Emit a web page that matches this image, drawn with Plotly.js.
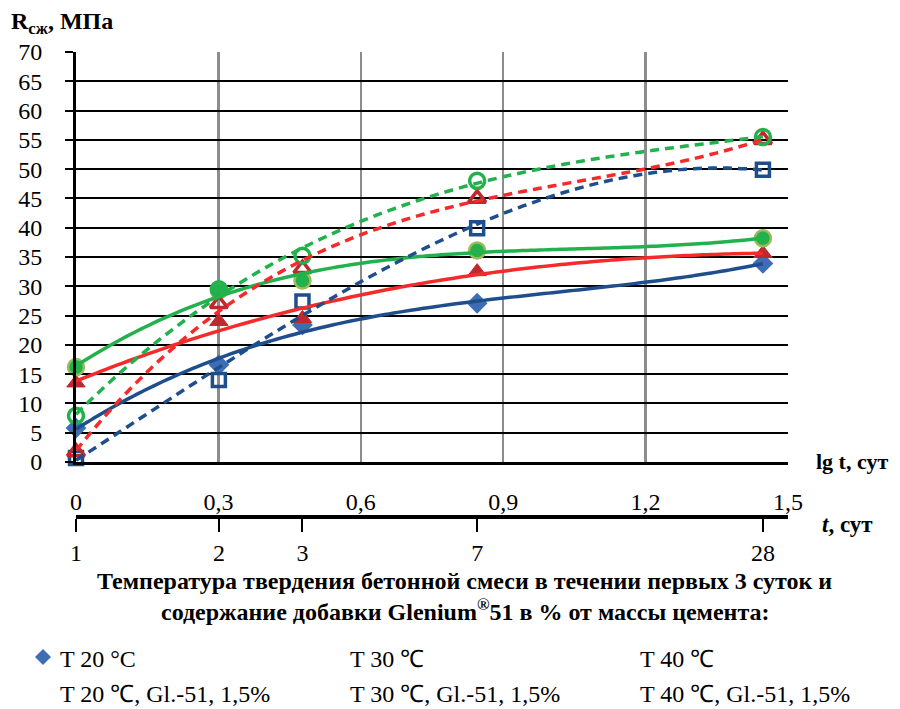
<!DOCTYPE html>
<html>
<head>
<meta charset="utf-8">
<script src="https://cdn.plot.ly/plotly-3.0.1.min.js"></script>
<style>html,body{margin:0;padding:0;background:#fff;}#chart{width:900px;height:709px;}</style>
</head>
<body>
<div id="chart"></div>
<script>
// ---- data ----
const tDays = [1, 2, 3, 7, 28];
const tLabels = ["1", "2", "3", "7", "28"];
const lgTickVals = [0, 0.3, 0.6, 0.9, 1.2, 1.5];
const lgTickText = ["0", "0,3", "0,6", "0,9", "1,2", "1,5"];
const yTickVals = [0, 5, 10, 15, 20, 25, 30, 35, 40, 45, 50, 55, 60, 65, 70];

const seriesNames = ["T 20 °C", "T 30 ℃", "T 40 ℃", "T 20 ℃, Gl.-51, 1,5%", "T 30 ℃, Gl.-51, 1,5%", "T 40 ℃, Gl.-51, 1,5%"];
const T20   = [5.8, 16.6, 23.4, 27.1, 33.9];
const T30   = [13.5, 24.0, 24.5, 32.5, 35.6];
const T40   = [16.2, 29.3, 31.0, 36.1, 38.2];
const T20Gl = [0.7, 14.0, 27.4, 39.9, 49.9];
const T30Gl = [1.7, 27.0, 33.0, 45.0, 55.0];
const T40Gl = [7.9, 29.5, 35.2, 48.0, 55.5];

// ---- styles ----
const FONT = "Liberation Serif, serif";
const lgT = tDays.map(Math.log10);
const styles = [
  {y: T20,   line: "#1f4e8c", dash: "solid", order: 3, marker: {symbol: "diamond", size: 16, color: "#3d6eb4", line: {width: 0}}},
  {y: T30,   line: "#f52a2a", dash: "solid", order: 3, marker: {symbol: "triangle-up", size: 16, color: "#c0282d", line: {width: 1, color: "#c0282d"}}},
  {y: T40,   line: "#22b14c", dash: "solid", order: 3, marker: {symbol: "circle", size: 16, color: "#22b14c", line: {width: 2.5, color: "#9bbb59"}}},
  {y: T20Gl, line: "#1f4e8c", dash: "9px,6px", order: 3, marker: {symbol: "square-open", size: 13, color: "#1f4e8c", line: {width: 3.5, color: "#1f4e8c"}}},
  {y: T30Gl, line: "#f52a2a", dash: "9px,6px", order: 3, marker: {symbol: "triangle-up-open", size: 15, color: "#c0282d", line: {width: 3.5, color: "#c0282d"}}},
  {y: T40Gl, line: "#22b14c", dash: "9px,6px", order: 3, marker: {symbol: "circle-open", size: 15, color: "#22b14c", line: {width: 3.5, color: "#22b14c"}}}
];

// least-squares polynomial trendline (as in the spreadsheet source)
function polyfit(xs, ys, n) {
  const m = n + 1;
  const A = [];
  for (let i = 0; i < m; i++) {
    A.push(new Array(m + 1).fill(0));
    for (let j = 0; j < m; j++) {
      let s = 0; xs.forEach(x => s += Math.pow(x, i + j)); A[i][j] = s;
    }
    let s = 0; xs.forEach((x, k) => s += ys[k] * Math.pow(x, i)); A[i][m] = s;
  }
  for (let c = 0; c < m; c++) {
    let p = c;
    for (let r = c + 1; r < m; r++) if (Math.abs(A[r][c]) > Math.abs(A[p][c])) p = r;
    [A[c], A[p]] = [A[p], A[c]];
    for (let r = 0; r < m; r++) {
      if (r === c) continue;
      const f = A[r][c] / A[c][c];
      for (let k = c; k <= m; k++) A[r][k] -= f * A[c][k];
    }
  }
  return A.map((row, i) => row[m] / A[i][i]);
}
function evalPoly(c, x) { return c.reduce((s, a, i) => s + a * Math.pow(x, i), 0); }

const traces = [];
styles.forEach((s, i) => {
  traces.push({x: lgT, y: s.y, type: "scatter", mode: "markers", name: seriesNames[i],
    marker: s.marker, showlegend: false, cliponaxis: false, hoverinfo: "x+y"});
});
styles.forEach((s, i) => {
  const c = polyfit(lgT, s.y, s.order);
  const xmax = lgT[lgT.length - 1];
  const xs = [], ys = [];
  for (let k = 0; k <= 80; k++) { const x = xmax * k / 80; xs.push(x); ys.push(evalPoly(c, x)); }
  traces.push({x: xs, y: ys, type: "scatter", mode: "lines", showlegend: false, hoverinfo: "skip",
    line: {color: s.line, width: 3.5, dash: s.dash, shape: "spline"}, cliponaxis: false});
});
// carrier trace so the secondary t-axis is drawn
traces.push({x: lgT, y: T20, xaxis: "x2", yaxis: "y", type: "scatter", mode: "markers",
  marker: {opacity: 0, size: 1}, showlegend: false, hoverinfo: "skip"});

// paper coordinate helpers (plot paper: x 76..788 px, y 52..517 px)
const PL = 76, PR = 788, PT = 52, PB = 517;
const px = v => (v - PL) / (PR - PL);
const py = v => (PB - v) / (PB - PT);

const annotations = [
  {text: "<b>R<sub>сж</sub>, МПа</b>", x: px(9), y: py(23), xanchor: "left", yanchor: "middle", font: {size: 24}},
  {text: "<b>lg t, сут</b>", x: px(814), y: py(461), xanchor: "left", yanchor: "middle", font: {size: 22}},
  {text: "<b><i>t</i>, сут</b>", x: px(820), y: py(524), xanchor: "left", yanchor: "middle", font: {size: 23}},
  {text: "<b>Температура твердения бетонной смеси в течении первых 3 суток и</b>",
   x: px(464), y: py(581), xanchor: "center", yanchor: "middle", font: {size: 24}},
  {text: "<b>содержание добавки Glenium<sup>®</sup>51 в % от массы цемента:</b>",
   x: px(465), y: py(610), xanchor: "center", yanchor: "middle", font: {size: 24}},
];
const legX = [58, 348, 638], legY = [659, 694];
seriesNames.forEach((nm, i) => {
  annotations.push({text: nm, x: px(legX[i % 3]), y: py(legY[Math.floor(i / 3)]), xanchor: "left", yanchor: "middle", font: {size: 24}});
});
annotations.forEach(a => { a.xref = "paper"; a.yref = "paper"; a.showarrow = false; a.font.family = FONT; a.font.color = "#000"; });

const dcx = px(43), dcy = py(657), dhw = 8 / (PR - PL), dhh = 8 / (PB - PT);
const shapes = [{type: "path", xref: "paper", yref: "paper",
  path: `M ${dcx - dhw},${dcy} L ${dcx},${dcy + dhh} L ${dcx + dhw},${dcy} L ${dcx},${dcy - dhh} Z`,
  fillcolor: "#3d6eb4", line: {width: 0}}];

const layout = {
  width: 900, height: 709,
  margin: {l: PL, r: 900 - PR, t: PT, b: 709 - PB, pad: 0},
  paper_bgcolor: "#fff", plot_bgcolor: "#fff",
  font: {family: FONT, size: 24, color: "#000"},
  separators: ", ",
  showlegend: false,
  xaxis: {range: [0, 1.5], tickvals: lgTickVals, ticktext: lgTickText, ticks: "", showgrid: true,
    gridcolor: "#8c8c8c", gridwidth: 2.2, zeroline: false, showline: true, linecolor: "#000", linewidth: 3,
    ticklabelstandoff: 16, tickfont: {family: FONT, size: 24}, anchor: "y", fixedrange: true},
  xaxis2: {range: [0, 1.5], overlaying: "x", anchor: "free", position: 0, side: "bottom",
    tickvals: lgT, ticktext: tLabels, ticks: "outside", ticklen: 13, tickwidth: 2, tickcolor: "#000",
    showline: true, linecolor: "#000", linewidth: 4, showgrid: false, zeroline: false,
    ticklabelstandoff: 0, tickfont: {family: FONT, size: 24}, fixedrange: true},
  yaxis: {domain: [(PB - 462) / (PB - PT), 1], range: [0, 70], tickvals: yTickVals, ticks: "outside", ticklen: 8,
    tickwidth: 2, tickcolor: "#000", showgrid: true, gridcolor: "#000", gridwidth: 2, zeroline: false,
    showline: true, linecolor: "#000", linewidth: 3, ticklabelstandoff: 18, tickfont: {family: FONT, size: 24}, fixedrange: true},
  annotations: annotations,
  shapes: shapes
};

Plotly.newPlot("chart", traces, layout, {displayModeBar: false, staticPlot: true});
</script>
</body>
</html>
